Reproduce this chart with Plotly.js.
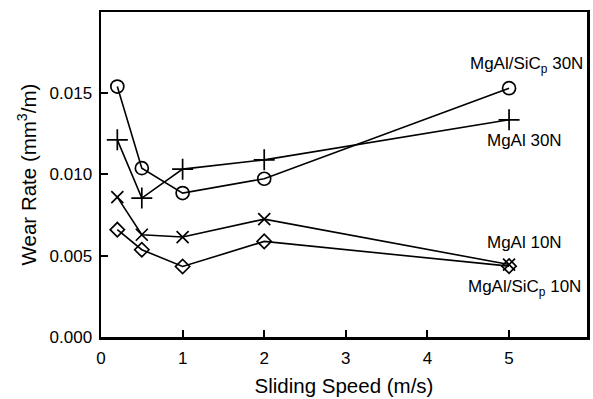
<!DOCTYPE html>
<html>
<head>
<meta charset="utf-8">
<script src="https://cdn.plot.ly/plotly-3.0.1.min.js"></script>
<style>html,body{margin:0;padding:0;background:#fff;}#chart{width:593px;height:399px;}</style>
</head>
<body>
<div id="chart"></div>
<script>
const speed = [0.2, 0.5, 1, 2, 5];
const sicp30N = [0.01538, 0.01037, 0.00884, 0.00972, 0.01528];
const mgal30N = [0.01211, 0.00853, 0.01031, 0.01088, 0.01334];
const mgal10N = [0.00859, 0.00628, 0.00614, 0.00724, 0.00445];
const sicp10N = [0.00659, 0.00536, 0.00433, 0.00587, 0.00435];
const seriesNames = ["MgAl/SiC<sub>p</sub> 30N", "MgAl 30N", "MgAl 10N", "MgAl/SiC<sub>p</sub> 10N"];
const xTicks = [0, 1, 2, 3, 4, 5];
const yTicks = [0, 0.005, 0.010, 0.015];

const font = "Liberation Sans, Arial, Helvetica, sans-serif";
function tr(y, sym, size, name) {
  return {
    x: speed, y: y, type: "scatter", mode: "lines+markers", name: name,
    line: {color: "#000", width: 1.6},
    marker: {symbol: sym, size: size, color: "#000", line: {color: "#000", width: 1.7}},
    showlegend: false
  };
}
const data = [
  tr(sicp30N, "circle-open", 13, seriesNames[0]),
  tr(mgal30N, "cross-thin-open", 15, seriesNames[1]),
  tr(mgal10N, "x-thin-open", 12, seriesNames[2]),
  tr(sicp10N, "diamond-open", 11, seriesNames[3])
];
const last = speed.length - 1;
const annotations = [
  {x: speed[last], y: sicp30N[last], text: seriesNames[0], xshift: 17, yshift: 23},
  {x: speed[last], y: mgal30N[last], text: seriesNames[1], xshift: 15, yshift: -21},
  {x: speed[last], y: mgal10N[last], text: seriesNames[2], xshift: 15, yshift: 22},
  {x: speed[last], y: sicp10N[last], text: seriesNames[3], xshift: 15, yshift: -22}
].map(a => Object.assign({xref: "x", yref: "y", showarrow: false, xanchor: "center", yanchor: "middle",
  font: {family: font, size: 17, color: "#000"}}, a));

const layout = {
  width: 593, height: 399,
  margin: {l: 101, r: 6, t: 12, b: 62},
  paper_bgcolor: "#fff", plot_bgcolor: "#fff",
  font: {family: font, color: "#000"},
  xaxis: {
    range: [0, 5.955], tickvals: xTicks, ticktext: xTicks.map(String),
    ticks: "inside", ticklen: 7, tickwidth: 2, tickcolor: "#000",
    showline: true, linecolor: "#000", linewidth: 2.5, mirror: true,
    showgrid: false, zeroline: false, ticklabelstandoff: 4,
    tickfont: {family: font, size: 17},
    title: {text: "Sliding Speed (m/s)", font: {family: font, size: 20.5}, standoff: 12}
  },
  yaxis: {
    range: [0, 0.01996], tickvals: yTicks, ticktext: yTicks.map(v => v.toFixed(3)),
    ticks: "inside", ticklen: 7, tickwidth: 2, tickcolor: "#000",
    showline: true, linecolor: "#000", linewidth: 2.5, mirror: true,
    showgrid: false, zeroline: false, ticklabelstandoff: 3,
    tickfont: {family: font, size: 17},
    title: {text: "Wear Rate (mm<sup>3</sup>/m)", font: {family: font, size: 20.5}, standoff: 8}
  },
  annotations: annotations
};
Plotly.newPlot("chart", data, layout, {displayModeBar: false, staticPlot: true});
</script>
</body>
</html>
